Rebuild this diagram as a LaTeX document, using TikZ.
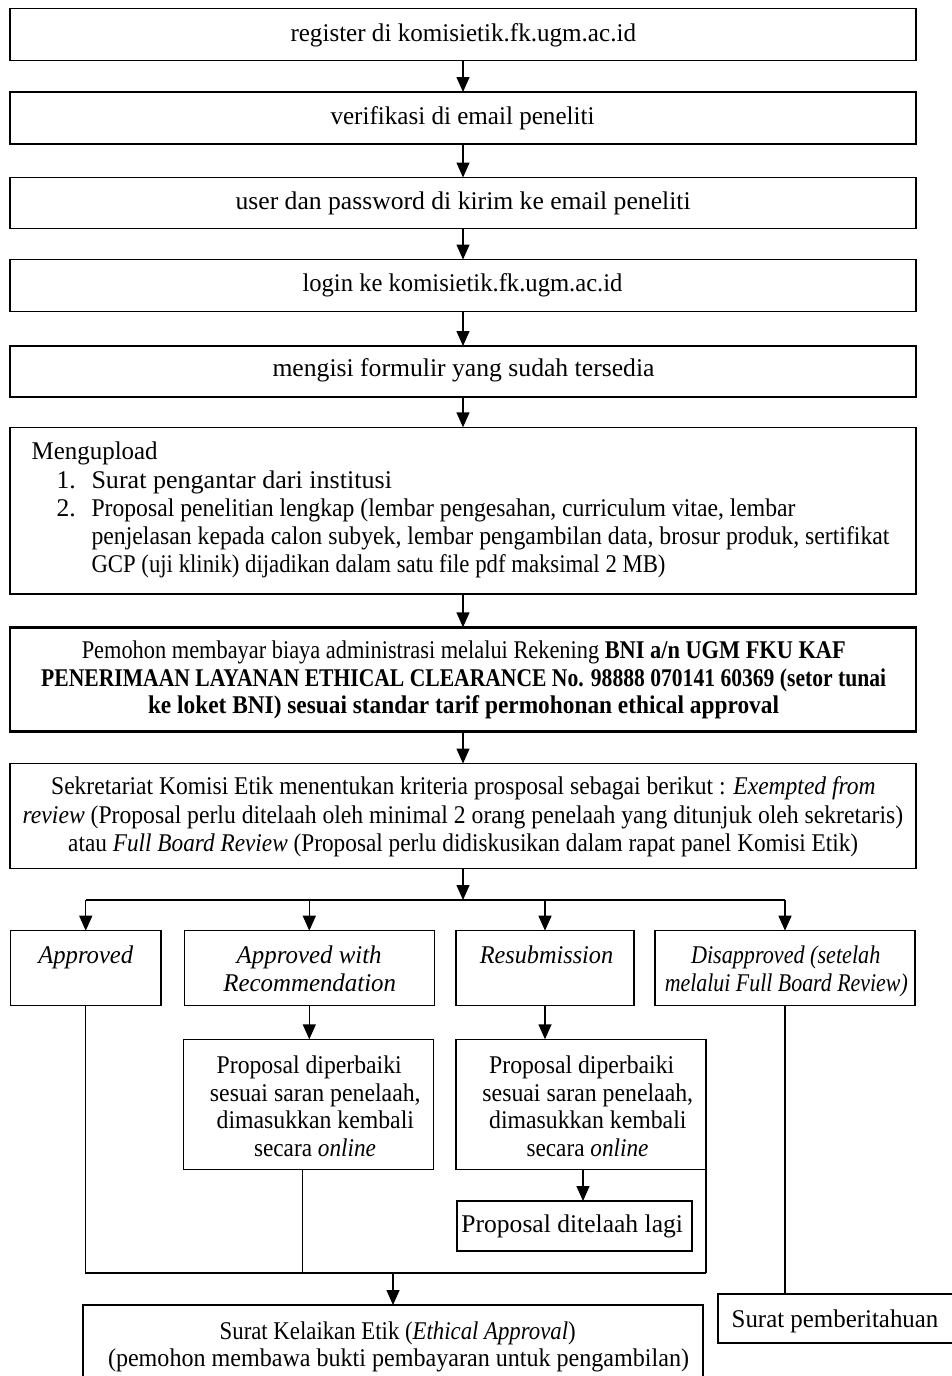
\documentclass[tikz,border=0pt]{standalone}
\usepackage{fontspec}
\usepackage{graphicx}
\setmainfont{Liberation Serif}
\usetikzlibrary{arrows.meta}
\newcommand\fsz{\fontsize{25.5}{28}\selectfont}
\newcommand\fitw[2]{\setbox0=\hbox{#2}\pgfmathsetmacro\fitfactor{#1/\the\wd0}\scalebox{\fitfactor}[1]{\box0}}
\begin{document}
\begin{tikzpicture}[x=1pt,y=-1pt,
  box/.style={draw, line width=1.4pt, inner sep=0pt, outer sep=0pt, anchor=north west},
  boldbox/.style={box, line width=2.6pt},
  lt/.style={font=\fsz, inner sep=0pt, outer sep=0pt, anchor=base},
  ltw/.style={lt, anchor=base west},
  arr/.style={-{Triangle[width=13pt,length=15pt]}, line width=1.4pt},
  ln/.style={line width=1.4pt}]
\clip (0,0) rectangle (952,1376);
\fill[white] (0,0) rectangle (952,1376);

% main column boxes
\node[box, minimum width=906pt, minimum height=52pt] (b1) at (10,8.5) {};
\node[box, minimum width=906pt, minimum height=52pt] (b2) at (10,92) {};
\node[box, minimum width=906pt, minimum height=51pt] (b3) at (10,177.5) {};
\node[box, minimum width=906pt, minimum height=52pt] (b4) at (10,259.5) {};
\node[box, minimum width=906pt, minimum height=51pt] (b5) at (10,346) {};
\node[box, minimum width=906pt, minimum height=166.7pt] (b6) at (10,427.3) {};
\node[boldbox, minimum width=906pt, minimum height=104.4pt] (b7) at (10,627.3) {};
\node[box, minimum width=906pt, minimum height=104.8pt] (b8) at (10,763.5) {};

\node[ltw] (t1) at (290.5,41) {\fitw{345.5}{register di komisietik.fk.ugm.ac.id}};
\node[ltw] (t2) at (330.5,124.5) {\fitw{264}{verifikasi di email peneliti}};
\node[ltw] (t3) at (235.6,209) {\fitw{455}{user dan password di kirim ke email peneliti}};
\node[ltw] (t4) at (302.5,291.5) {\fitw{320}{login ke komisietik.fk.ugm.ac.id}};
\node[ltw] (t5) at (272.5,376) {\fitw{382}{mengisi formulir yang sudah tersedia}};

\node[ltw] (u0) at (31.7,459) {\fitw{126}{Mengupload}};
\node[ltw] (u1n) at (56.7,488) {1.};
\node[ltw] (u1) at (91.5,488) {\fitw{300.5}{Surat pengantar dari institusi}};
\node[ltw] (u2n) at (56.7,516) {2.};
\node[ltw] (u2) at (91.5,516) {\fitw{704}{Proposal penelitian lengkap (lembar pengesahan, curriculum vitae, lembar}};
\node[ltw] (u3) at (91.5,544) {\fitw{798}{penjelasan kepada calon subyek, lembar pengambilan data, brosur produk, sertifikat}};
\node[ltw] (u4) at (91.5,572) {\fitw{574}{GCP (uji klinik) dijadikan dalam satu file pdf maksimal 2 MB)}};

\node[ltw] (p1) at (81.8,658) {\fitw{764}{Pemohon membayar biaya administrasi melalui Rekening \textbf{BNI a/n UGM FKU KAF}}};
\node[ltw] (p2) at (41.2,686) {\fitw{845}{\textbf{PENERIMAAN LAYANAN ETHICAL CLEARANCE No. 98888 070141 60369 (setor tunai}}};
\node[ltw] (p3) at (148,713) {\fitw{631}{\textbf{ke loket BNI) sesuai standar tarif permohonan ethical approval}}};

\node[ltw] (k1) at (51.2,794) {\fitw{824.5}{Sekretariat Komisi Etik menentukan kriteria prosposal sebagai berikut : \textit{Exempted from}}};
\node[ltw] (k2) at (22.6,823) {\fitw{880.5}{\textit{review} (Proposal perlu ditelaah oleh minimal 2 orang penelaah yang ditunjuk oleh sekretaris)}};
\node[ltw] (k3) at (68.2,851) {\fitw{790}{atau \textit{Full Board Review} (Proposal perlu didiskusikan dalam rapat panel Komisi Etik)}};

% arrows main column
\draw[arr] (b1.south) -- (b2.north);
\draw[arr] (b2.south) -- (b3.north);
\draw[arr] (b3.south) -- (b4.north);
\draw[arr] (b4.south) -- (b5.north);
\draw[arr] (b5.south) -- (b6.north);
\draw[arr] (b6.south) -- (b7.north);
\draw[arr] (b7.south) -- (b8.north);

% branch row
\node[box, minimum width=150.5pt, minimum height=74.5pt] (r1) at (10.5,930.7) {};
\node[box, minimum width=250pt, minimum height=74.5pt] (r2) at (184.3,930.7) {};
\node[box, minimum width=178pt, minimum height=74.5pt] (r3) at (456,930.7) {};
\node[box, minimum width=260pt, minimum height=74.5pt] (r4) at (655,930.7) {};

\node[lt] (rt1) at (85.8,963) {\fitw{95}{\textit{Approved}}};
\node[lt] (rt2a) at (309.2,963) {\fitw{145}{\textit{Approved with}}};
\node[lt] (rt2b) at (309.7,991) {\fitw{172.7}{\textit{Recommendation}}};
\node[lt] (rt3) at (546.5,963) {\fitw{133.5}{\textit{Resubmission}}};
\node[lt] (rt4a) at (785.7,963) {\fitw{189.4}{\textit{Disapproved (setelah}}};
\node[lt] (rt4b) at (786.3,991) {\fitw{243}{\textit{melalui Full Board Review)}}};

\coordinate (br) at (463,900);
\draw[arr] (b8.south) -- (br);
\draw[ln] (r1.north |- br) -- (r4.north |- br);
\draw[arr] (r1.north |- br) -- (r1.north);
\draw[arr] (r2.north |- br) -- (r2.north);
\draw[arr] (r3.north |- br) -- (r3.north);
\draw[arr] (r4.north |- br) -- (r4.north);

% second row
\node[box, minimum width=249.6pt, minimum height=130pt] (s2) at (183.7,1039.3) {};
\node[box, minimum width=250pt, minimum height=130pt] (s3) at (456,1039.3) {};
\node[lt] (sa1) at (309.2,1073) {\fitw{185}{Proposal diperbaiki}};
\node[lt] (sa2) at (315.3,1101) {\fitw{210.7}{sesuai saran penelaah,}};
\node[lt] (sa3) at (315.3,1128.5) {\fitw{197.3}{dimasukkan kembali}};
\node[lt] (sa4) at (315,1156) {\fitw{122}{secara \textit{online}}};
\node[lt] (sb1) at (581.7,1073) {\fitw{185}{Proposal diperbaiki}};
\node[lt] (sb2) at (587.8,1101) {\fitw{210.7}{sesuai saran penelaah,}};
\node[lt] (sb3) at (587.8,1128.5) {\fitw{197.3}{dimasukkan kembali}};
\node[lt] (sb4) at (587.5,1156) {\fitw{122}{secara \textit{online}}};
\draw[arr] (r2.south) -- (r2.south |- s2.north);
\draw[arr] (r3.south) -- (r3.south |- s3.north);

\node[box, minimum width=235pt, minimum height=50pt] (q3) at (457,1201) {};
\node[lt] (qt3) at (572.2,1232.5) {\fitw{221.6}{Proposal ditelaah lagi}};
\coordinate (q3in) at (583,1201);
\draw[arr] (s3.south -| q3in) -- (q3in);

% merge
\coordinate (mg) at (393,1273);
\coordinate (s2out) at (302.7,1169.3);
\draw[ln] (r1.south) |- (s3.south east |- mg);
\draw[ln] (s2out) -- (s2out |- mg);
\draw[ln] (s3.south east) -- (s3.south east |- mg);

\node[box, minimum width=620pt, minimum height=110pt] (f) at (83,1305) {};
\node[lt] (ft1) at (397.7,1339) {\fitw{356}{Surat Kelaikan Etik (\textit{Ethical Approval})}};
\node[lt] (ft2) at (398.5,1366.5) {\fitw{581}{(pemohon membawa bukti pembayaran untuk pengambilan)}};
\draw[arr] (mg) -- (f.north);

\node[box, minimum width=260pt, minimum height=49pt] (sp) at (718,1294) {};
\node[ltw] (spt) at (731.7,1327) {\fitw{206.7}{Surat pemberitahuan}};
\draw[ln] (r4.south) -- (r4.south |- sp.north);
\end{tikzpicture}
\end{document}
